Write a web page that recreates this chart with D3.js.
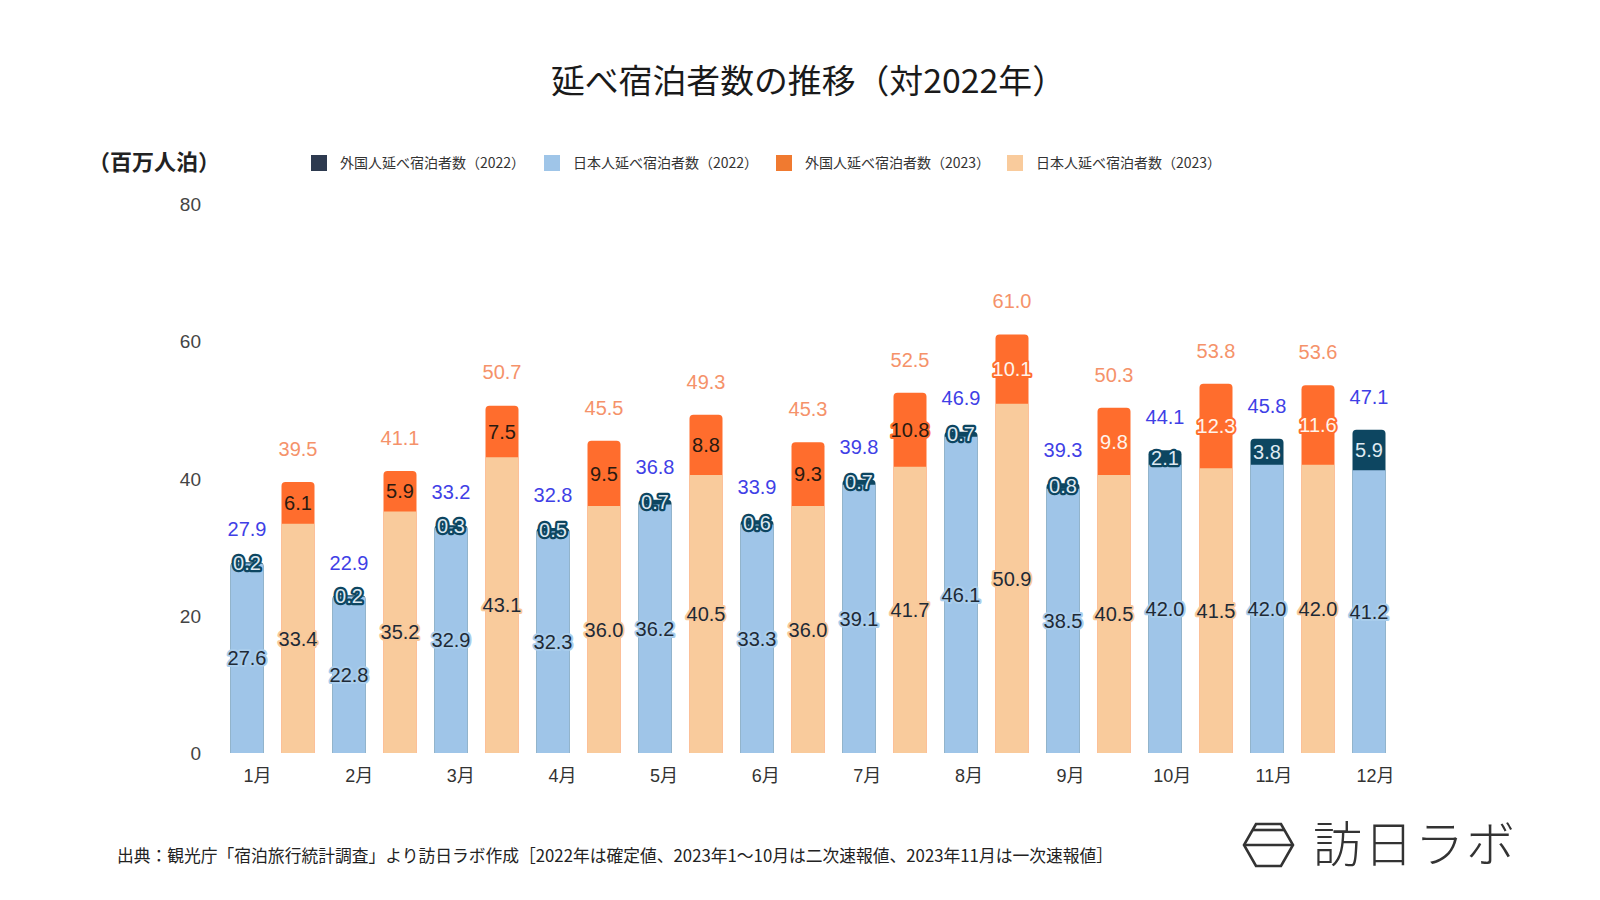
<!DOCTYPE html>
<html><head><meta charset="utf-8">
<script src="https://cdn.jsdelivr.net/npm/d3@7"></script>
<style>
html,body{margin:0;padding:0;background:#fff;}
svg text{font-family:"Liberation Sans","Noto Sans CJK JP",Arial,sans-serif;}
.cjk{font-family:"Noto Sans CJK JP","Noto Sans",sans-serif !important;}
</style></head>
<body>
<svg id="c" width="1600" height="900"></svg>
<script>
const months = ["1月","2月","3月","4月","5月","6月","7月","8月","9月","10月","11月","12月"];
const jp2022 = [27.6,22.8,32.9,32.3,36.2,33.3,39.1,46.1,38.5,42.0,42.0,41.2];
const fr2022 = [0.2,0.2,0.3,0.5,0.7,0.6,0.7,0.7,0.8,2.1,3.8,5.9];
const total2022 = [27.9,22.9,33.2,32.8,36.8,33.9,39.8,46.9,39.3,44.1,45.8,47.1];
const jp2023 = [33.4,35.2,43.1,36.0,40.5,36.0,41.7,50.9,40.5,41.5,42.0];
const fr2023 = [6.1,5.9,7.5,9.5,8.8,9.3,10.8,10.1,9.8,12.3,11.6];
const total2023 = [39.5,41.1,50.7,45.5,49.3,45.3,52.5,61.0,50.3,53.8,53.6];
const yTicks = [0,20,40,60,80];
const legendLabels = ["外国人延べ宿泊者数（2022）","日本人延べ宿泊者数（2022）","外国人延べ宿泊者数（2023）","日本人延べ宿泊者数（2023）"];
const titleText = "延べ宿泊者数の推移（対2022年）";
const unitText = "（百万人泊）";
const sourceText = "出典：観光庁「宿泊旅行統計調査」より訪日ラボ作成［2022年は確定値、2023年1〜10月は二次速報値、2023年11月は一次速報値］";
const logoText = "訪日ラボ";

const C = {
  blue:"#9fc5e8", dark:"#0d4661", peach:"#f9cb9c", orange:"#ff6d2d",
  legDark:"#2d3a4f", legBlue:"#9fc5e8", legOrange:"#f07a30", legPeach:"#f9cb9c",
  tot22:"#3f3fe6", tot23:"#f5926a"
};

const svg = d3.select("#c");
const y = d3.scaleLinear().domain([0,80]).range([753,204]);
const xMonth = d3.scaleBand().domain(months).range([221.5, 221.5+12*102]);
const xSeries = d3.scaleBand().domain(["2022","2023"]).range([0,102]).paddingInner(0.353).paddingOuter(0.1765);
const xLabel = d3.scalePoint().domain(months).range([257,1375]);

// title
svg.append("text").attr("class","cjk").attr("x",551).attr("y",93)
  .attr("font-size",33).attr("font-weight",400).attr("fill","#1a1a1a")
  .attr("textLength",515).attr("lengthAdjust","spacingAndGlyphs").text(titleText);

// unit
svg.append("text").attr("class","cjk").attr("x",88).attr("y",170).attr("font-size",22).attr("font-weight",700)
  .attr("fill","#222").text(unitText);

// legend
const legColors = [C.legDark,C.legBlue,C.legOrange,C.legPeach];
const legX = [311,544,776,1007];
legendLabels.forEach((t,i)=>{
  svg.append("rect").attr("x",legX[i]).attr("y",155).attr("width",16).attr("height",16).attr("fill",legColors[i]);
  svg.append("text").attr("class","cjk").attr("x",legX[i]+29).attr("y",168).attr("font-size",14)
    .attr("fill","#333").text(t);
});

// y axis
const yAxis = d3.axisLeft(y).tickValues(yTicks).tickSize(0).tickPadding(0);
const gy = svg.append("g").attr("transform","translate(201,0)").call(yAxis);
gy.select(".domain").remove();
gy.selectAll("text").attr("font-size",19).attr("fill","#444").attr("dy","0.35em")
  .style("font-family","'Liberation Sans',Arial,sans-serif");

// x axis labels
const xAxis = d3.axisBottom(xLabel).tickSize(0).tickPadding(0);
const gx = svg.append("g").attr("transform","translate(0,776)").call(xAxis);
gx.select(".domain").remove();
gx.selectAll("text").attr("font-size",18).attr("fill","#333").attr("dy","0.35em")
  .style("font-family","'Liberation Sans','Noto Sans CJK JP',sans-serif");

function topRounded(x,yTop,w,yBot,r){
  r = Math.min(r,(yBot-yTop),w/2);
  return `M${x},${yBot}V${yTop+r}Q${x},${yTop} ${x+r},${yTop}H${x+w-r}Q${x+w},${yTop} ${x+w},${yTop+r}V${yBot}Z`;
}

const bw = xSeries.bandwidth();
const bars = svg.append("g");
const labels = svg.append("g");

function drawStack(i, key, jpVals, frVals, totVals, jpColor, frColor, totColor, jpHalo, frStyle){
  const m = months[i];
  const x0 = xMonth(m) + xSeries(key);
  const jp = jpVals[i], fr = frVals[i];
  const yTop = y(jp+fr), yJp = y(jp), y0 = y(0);
  bars.append("path").attr("d", topRounded(x0, yTop, bw, y0, 4)).attr("fill", frColor);
  bars.append("path").attr("d", (yJp-yTop) < 4 ? topRounded(x0, yJp, bw, y0, 4 - (yJp-yTop)) : `M${x0},${y0}V${yJp}H${x0+bw}V${y0}Z`).attr("fill", jpColor);
  const cx = x0 + bw/2;
  labels.append("text").attr("x",cx).attr("y",(yJp+y0)/2).attr("dy","0.36em").attr("text-anchor","middle")
    .attr("font-size",20).attr("fill","#1e2a36").attr("stroke",jpHalo).attr("stroke-width",4)
    .attr("stroke-linejoin","round").attr("paint-order","stroke").text(jp.toFixed(1));
  const fs = frStyle(i);
  labels.append("text").attr("x",cx).attr("y",(yTop+yJp)/2).attr("dy","0.36em").attr("text-anchor","middle")
    .attr("font-size",20).attr("fill",fs.fill).attr("stroke",fs.stroke).attr("stroke-width",fs.sw)
    .attr("stroke-linejoin","round").attr("paint-order","stroke").text(fr.toFixed(1));
  labels.append("text").attr("x",cx).attr("y",y(totVals[i]) - 26).attr("text-anchor","middle")
    .attr("font-size",20).attr("fill",totColor).text(totVals[i].toFixed(1));
}

months.forEach((m,i)=>{
  drawStack(i,"2022",jp2022,fr2022,total2022,C.blue,C.dark,C.tot22,"#a9cdec",
    ()=>({fill:"#dfe9f1",stroke:C.dark,sw:4.5}));
  if (i < jp2023.length) {
    drawStack(i,"2023",jp2023,fr2023,total2023,C.peach,C.orange,C.tot23,"#f9c99a",
      (k)=>({fill: k>=7 ? "#fff3ea" : "#2a1a10", stroke:C.orange, sw:4}));
  }
});

// source
svg.append("text").attr("class","cjk").attr("x",117).attr("y",862).attr("font-size",17).attr("font-weight",400)
  .attr("fill","#222").attr("textLength",996).attr("lengthAdjust","spacingAndGlyphs").text(sourceText);

// logo
const lg = svg.append("g").attr("fill","none").attr("stroke","#333").attr("stroke-width",2.6).attr("stroke-linejoin","miter");
lg.append("path").attr("d","M1256,824H1281L1293,845L1281,866H1256L1244,845Z");
lg.append("path").attr("d","M1253,830H1284");
lg.append("path").attr("d","M1244,845H1293");
svg.append("text").attr("class","cjk").attr("x",1313).attr("y",862).attr("font-size",49).attr("font-weight",200)
  .attr("letter-spacing",2).attr("fill","#333").text(logoText);
</script>
</body></html>
